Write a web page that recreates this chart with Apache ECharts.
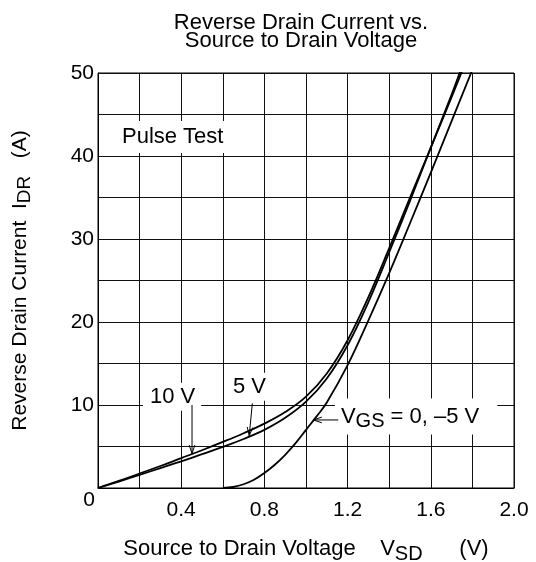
<!DOCTYPE html>
<html>
<head>
<meta charset="utf-8">
<script src="https://cdn.jsdelivr.net/npm/echarts@6/dist/echarts.min.js"></script>
<style>
  html, body { margin: 0; padding: 0; background: #fff; }
  #chart { width: 536px; height: 562px; }
</style>
</head>
<body>
<div id="chart"></div>
<script>
  // V_SD (V) / I_DR (A)
  const vsd10 = [0, 0.1, 0.2, 0.3, 0.4, 0.5, 0.6, 0.7, 0.8, 0.9, 1.0, 1.1, 1.2, 1.3, 1.4, 1.5, 1.6, 1.7, 1.75]
  const idr10 = [0, 0.85, 1.75, 2.65, 3.6, 4.55, 5.55, 6.6, 7.75, 9.15, 11.0, 13.8, 17.8, 23.0, 28.9, 35.0, 41.0, 47.1, 50.2]
  const vsd5 = [0, 0.1, 0.2, 0.3, 0.4, 0.5, 0.6, 0.7, 0.8, 0.9, 1.0, 1.1, 1.2, 1.3, 1.4, 1.5, 1.6, 1.7, 1.75]
  const idr5 = [0, 0.78, 1.58, 2.4, 3.22, 4.07, 4.95, 5.9, 7.0, 8.45, 10.4, 13.2, 17.2, 22.4, 28.4, 34.6, 41.0, 47.4, 50.8]
  const vsd0 = [0.6, 0.65, 0.7, 0.75, 0.8, 0.85, 0.9, 0.95, 1.0, 1.05, 1.1, 1.2, 1.3, 1.4, 1.5, 1.6, 1.7, 1.8]
  const idr0 = [0, 0.12, 0.45, 1.0, 1.8, 2.8, 4.0, 5.4, 7.0, 8.6, 10.3, 14.8, 20.2, 25.9, 31.9, 38.0, 44.2, 50.4]

  const xTicks = ['0.4', '0.8', '1.2', '1.6', '2.0']
  const yTicks = ['10', '20', '30', '40', '50']

  const font = 'Liberation Sans, Arial, sans-serif'
  const pairs = (xs, ys) => xs.map((x, i) => [x, ys[i]])

  const chart = echarts.init(document.getElementById('chart'))

  const curve = (name, data) => ({
    name: name,
    type: 'line',
    data: data,
    smooth: 0.4,
    symbol: 'none',
    lineStyle: { color: '#000', width: 1.8 },
    z: 5
  })

  chart.setOption({
    animation: false,
    textStyle: { fontFamily: font, color: '#000' },
    title: {
      text: 'Reverse Drain Current vs.\nSource to Drain Voltage',
      left: 301,
      top: 14,
      padding: 0,
      textAlign: 'center',
      textStyle: { fontSize: 22, fontWeight: 'normal', lineHeight: 18, color: '#000', fontFamily: font }
    },
    grid: {
      left: 98, right: 22, top: 73, bottom: 74,
      show: true, borderColor: '#000', borderWidth: 1,
      outerBoundsMode: 'none'
    },
    xAxis: {
      type: 'value',
      min: 0, max: 2, interval: 0.2,
      axisLine: { show: true, lineStyle: { color: '#000' } },
      axisTick: { show: false },
      splitLine: { show: true, lineStyle: { color: '#111', width: 1 } },
      axisLabel: {
        fontSize: 21, color: '#000', margin: 12,
        formatter: v => {
          const s = v.toFixed(1)
          return xTicks.indexOf(s) >= 0 ? s : ''
        }
      },
      name: '{a|Source to Drain Voltage    V}{s|SD}{a|      (V)}',
      nameLocation: 'middle',
      nameGap: 46,
      nameTextStyle: {
        rich: {
          a: { fontSize: 22, lineHeight: 30, fontFamily: font, color: '#000' },
          s: { fontSize: 20, lineHeight: 20, verticalAlign: 'bottom', fontFamily: font, color: '#000' }
        }
      }
    },
    yAxis: {
      type: 'value',
      min: 0, max: 50, interval: 5,
      axisLine: { show: true, lineStyle: { color: '#000' } },
      axisTick: { show: false },
      splitLine: { show: true, lineStyle: { color: '#111', width: 1 } },
      axisLabel: {
        fontSize: 21, color: '#000', margin: 4,
        formatter: v => yTicks.indexOf(String(v)) >= 0 ? String(v) : ''
      },
      name: '{a|Reverse Drain Current  I}{s|DR}{a|   (A)}',
      nameLocation: 'middle',
      nameGap: 64,
      nameTextStyle: {
        rich: {
          a: { fontSize: 21, lineHeight: 28, fontFamily: font, color: '#000' },
          s: { fontSize: 19, lineHeight: 18, verticalAlign: 'bottom', fontFamily: font, color: '#000' }
        }
      }
    },
    series: [
      curve('10 V', pairs(vsd10, idr10)),
      curve('5 V', pairs(vsd5, idr5)),
      curve('0, -5 V', pairs(vsd0, idr0))
    ]
  })

  // annotations placed in data coordinates
  const p = (v, i) => chart.convertToPixel({ gridIndex: 0 }, [v, i])

  function label (text, v, i, pad, rich) {
    const [x, y] = p(v, i)
    return {
      type: 'text', x: x, y: y, z: 10,
      style: {
        text: text, fill: '#000', fontSize: 22, fontFamily: font,
        align: 'left', verticalAlign: 'middle',
        backgroundColor: '#fff', padding: pad, rich: rich
      }
    }
  }

  function arrow (from, to) {
    const [x1, y1] = p(from[0], from[1])
    const [x2, y2] = p(to[0], to[1])
    const a = Math.atan2(y2 - y1, x2 - x1)
    const len = 9
    const spread = 0.32
    const h1 = [x2 - len * Math.cos(a - spread), y2 - len * Math.sin(a - spread)]
    const h2 = [x2 - len * Math.cos(a + spread), y2 - len * Math.sin(a + spread)]
    const st = { stroke: '#000', lineWidth: 1, fill: null }
    return [
      { type: 'polyline', z: 11, shape: { points: [[x1, y1], [x2, y2]] }, style: st },
      { type: 'polyline', z: 11, shape: { points: [h1, [x2, y2], h2] }, style: st }
    ]
  }

  const [ox, oy] = p(0, 0)

  chart.setOption({
    graphic: [
      label('Pulse Test', 0.096, 42.3, [5, 4]),
      label('10 V', 0.216, 11.0, [3, 6, 3, 7]),
      label('5 V', 0.62, 12.2, [3, 6, 3, 6]),
      label('{a|V}{s|GS}{a| = 0, –5 V}', 1.139, 8.6, [3, 18, 3, 6], {
        a: { fontSize: 22, lineHeight: 30, fontFamily: font },
        s: { fontSize: 20, lineHeight: 20, verticalAlign: 'bottom', fontFamily: font }
      }),
      ...arrow([0.452, 10.0], [0.452, 4.15]),
      ...arrow([0.742, 10.2], [0.727, 6.3]),
      ...arrow([1.155, 8.2], [1.035, 8.2]),
      {
        type: 'text', x: ox - 9, y: oy + 12, z: 10,
        style: { text: '0', fill: '#000', fontSize: 21, fontFamily: font, align: 'center', verticalAlign: 'middle' }
      }
    ]
  })
</script>
</body>
</html>
